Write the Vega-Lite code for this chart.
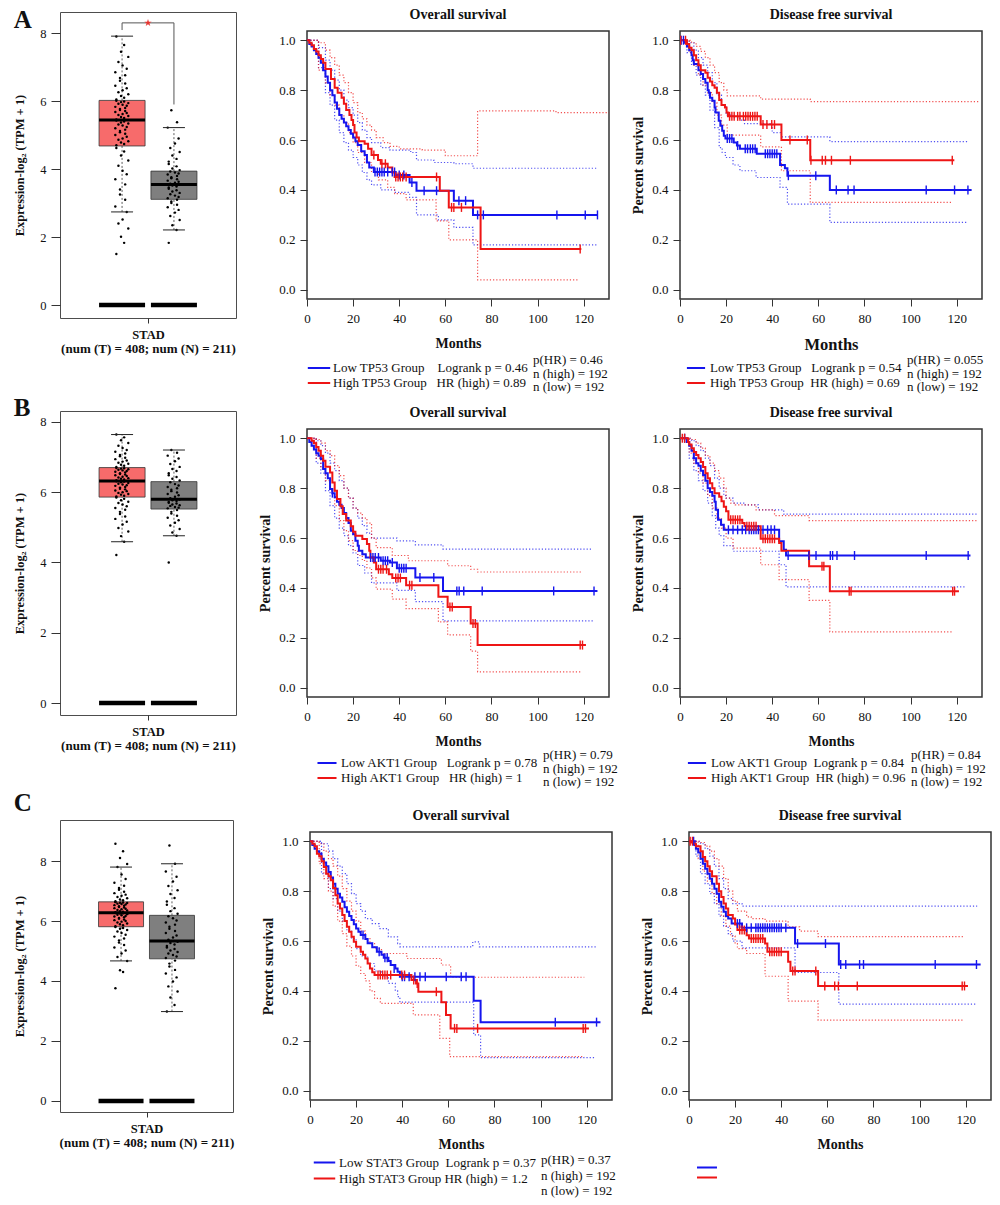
{
"$schema":"https://vega.github.io/schema/vega-lite/v6.json",
"background":"white",
"padding":{"left":13,"top":7,"right":5,"bottom":5},
"spacing":0,
"bounds":"full",
"resolve":{"scale":{"x":"independent","y":"independent","color":"independent"},"axis":{"x":"independent","y":"independent"},"legend":{"color":"independent"}},
"config":{
 "font":"Liberation Serif",
 "view":{"stroke":"#333","strokeWidth":1.5},
 "axis":{"domain":false,"grid":false,"labelFont":"Liberation Serif","titleFont":"Liberation Serif","labelColor":"#111","titleColor":"#111","labelFontSize":13,"titleFontSize":14,"titleFontWeight":"bold","tickColor":"#333","tickSize":7,"labelPadding":5,"titlePadding":8,"labelFlush":false,"labelOverlap":false},
 "title":{"font":"Liberation Serif","fontSize":14,"fontWeight":"bold","color":"#111","anchor":"middle","offset":9},
 "legend":{"direction":"vertical","symbolType":"M-1.6,0H1.6","symbolStrokeWidth":2,"symbolSize":196,"symbolDash":[1,0],"symbolOpacity":1,"labelFont":"Liberation Serif","labelFontSize":13,"labelColor":"#111","labelOffset":6,"rowPadding":0,"padding":0,"labelLimit":400,"titleFont":"Liberation Serif","titleFontSize":13,"titleFontWeight":"normal","titleColor":"#111","titleOrient":"right","titleAnchor":"start","titleBaseline":"middle","titleLineHeight":13.5,"titlePadding":5,"titleLimit":300}
},
"datasets":{
 "boxA":[{"g":"T","c":1,"lo":2.74,"q1":4.68,"med":5.44,"q3":6.02,"hi":7.91,"z":0},{"g":"N","c":2,"lo":2.21,"q1":3.11,"med":3.55,"q3":3.94,"hi":5.22,"z":0}],
 "boxB":[{"g":"T","c":1,"lo":4.59,"q1":5.86,"med":6.32,"q3":6.70,"hi":7.64,"z":0},{"g":"N","c":2,"lo":4.76,"q1":5.52,"med":5.80,"q3":6.30,"hi":7.20,"z":0}],
 "boxC":[{"g":"T","c":1,"lo":4.67,"q1":5.81,"med":6.28,"q3":6.64,"hi":7.80,"z":0},{"g":"N","c":2,"lo":2.98,"q1":4.74,"med":5.33,"q3":6.19,"hi":7.91,"z":0}],
 "brA":[{"x":1,"x2":2,"y":8.3,"y2":8.3},{"x":1,"x2":1,"y":8.09,"y2":8.3},{"x":2,"x2":2,"y":5.9,"y2":8.3}],
 "starA":[{"x":1.5,"y":8.3}],
 "ptsA":[
{"x":0.89,"v":1.5},{"x":1.04,"v":1.83},{"x":0.98,"v":2.01},{"x":1.12,"v":2.25},{"x":0.93,"v":2.4},{"x":1.01,"v":2.52},{"x":1.09,"v":2.74},{"x":0.87,"v":2.9},{"x":1.06,"v":3.1},{"x":0.96,"v":3.25},
{"x":0.96,"v":3.4},{"x":1.06,"v":3.55},{"x":0.87,"v":3.7},{"x":1.09,"v":3.85},{"x":1.01,"v":3.95},{"x":0.93,"v":4.1},{"x":1.12,"v":4.25},{"x":0.98,"v":4.4},{"x":1.04,"v":4.52},{"x":0.89,"v":4.62},
{"x":0.89,"v":4.7},{"x":1.04,"v":4.74},{"x":0.98,"v":4.78},{"x":1.12,"v":4.82},{"x":0.93,"v":4.86},{"x":1.01,"v":4.9},{"x":1.09,"v":4.95},{"x":0.87,"v":5.0},{"x":1.06,"v":5.04},{"x":0.96,"v":5.08},
{"x":0.96,"v":5.12},{"x":1.06,"v":5.16},{"x":0.87,"v":5.2},{"x":1.09,"v":5.24},{"x":1.01,"v":5.28},{"x":0.93,"v":5.31},{"x":1.12,"v":5.34},{"x":0.98,"v":5.37},{"x":1.04,"v":5.4},{"x":0.89,"v":5.43},
{"x":0.89,"v":5.46},{"x":1.04,"v":5.5},{"x":0.98,"v":5.53},{"x":1.12,"v":5.56},{"x":0.93,"v":5.59},{"x":1.01,"v":5.62},{"x":1.09,"v":5.65},{"x":0.87,"v":5.68},{"x":1.06,"v":5.71},{"x":0.96,"v":5.74},
{"x":0.96,"v":5.77},{"x":1.06,"v":5.8},{"x":0.87,"v":5.83},{"x":1.09,"v":5.86},{"x":1.01,"v":5.89},{"x":0.93,"v":5.92},{"x":1.12,"v":5.94},{"x":0.98,"v":5.97},{"x":1.04,"v":5.99},{"x":0.89,"v":6.01},
{"x":0.89,"v":6.05},{"x":1.04,"v":6.1},{"x":0.98,"v":6.15},{"x":1.12,"v":6.2},{"x":0.93,"v":6.26},{"x":1.01,"v":6.32},{"x":1.09,"v":6.38},{"x":0.87,"v":6.45},{"x":1.06,"v":6.52},{"x":0.96,"v":6.6},
{"x":0.96,"v":6.68},{"x":1.06,"v":6.76},{"x":0.87,"v":6.85},{"x":1.09,"v":6.95},{"x":1.01,"v":7.05},{"x":0.93,"v":7.15},{"x":1.12,"v":7.3},{"x":0.98,"v":7.45},{"x":1.04,"v":7.65},{"x":0.89,"v":7.9},
{"x":1.90,"v":1.83},{"x":2.05,"v":2.21},{"x":1.97,"v":2.35},{"x":2.11,"v":2.5},{"x":1.93,"v":2.62},{"x":2.02,"v":2.72},{"x":2.09,"v":2.8},{"x":1.88,"v":2.88},{"x":2.06,"v":2.95},{"x":1.95,"v":3.0},
{"x":1.95,"v":3.05},{"x":2.06,"v":3.1},{"x":1.88,"v":3.14},{"x":2.09,"v":3.18},{"x":2.02,"v":3.22},{"x":1.93,"v":3.26},{"x":2.11,"v":3.3},{"x":1.97,"v":3.34},{"x":2.05,"v":3.38},{"x":1.90,"v":3.42},
{"x":1.90,"v":3.46},{"x":2.05,"v":3.49},{"x":1.97,"v":3.52},{"x":2.11,"v":3.54},{"x":1.93,"v":3.57},{"x":2.02,"v":3.6},{"x":2.09,"v":3.63},{"x":1.88,"v":3.66},{"x":2.06,"v":3.7},{"x":1.95,"v":3.73},
{"x":1.95,"v":3.76},{"x":2.06,"v":3.8},{"x":1.88,"v":3.84},{"x":2.09,"v":3.87},{"x":2.02,"v":3.9},{"x":1.93,"v":3.93},{"x":2.11,"v":3.97},{"x":1.97,"v":4.02},{"x":2.05,"v":4.08},{"x":1.90,"v":4.15},
{"x":1.90,"v":4.22},{"x":2.05,"v":4.3},{"x":1.97,"v":4.4},{"x":2.11,"v":4.5},{"x":1.93,"v":4.62},{"x":2.02,"v":4.75},{"x":2.09,"v":4.9},{"x":1.88,"v":5.22},{"x":2.06,"v":5.38},{"x":1.95,"v":5.73}],
 "ptsB":[
{"x":0.89,"v":4.21},{"x":1.04,"v":4.59},{"x":0.98,"v":4.75},{"x":1.12,"v":4.88},{"x":0.93,"v":4.98},{"x":1.01,"v":5.08},{"x":1.09,"v":5.16},{"x":0.87,"v":5.24},{"x":1.06,"v":5.31},{"x":0.96,"v":5.38},
{"x":0.96,"v":5.44},{"x":1.06,"v":5.5},{"x":0.87,"v":5.55},{"x":1.09,"v":5.6},{"x":1.01,"v":5.65},{"x":0.93,"v":5.69},{"x":1.12,"v":5.73},{"x":0.98,"v":5.77},{"x":1.04,"v":5.81},{"x":0.89,"v":5.85},
{"x":0.89,"v":5.88},{"x":1.04,"v":5.9},{"x":0.98,"v":5.93},{"x":1.12,"v":5.95},{"x":0.93,"v":5.98},{"x":1.01,"v":6.0},{"x":1.09,"v":6.03},{"x":0.87,"v":6.05},{"x":1.06,"v":6.08},{"x":0.96,"v":6.1},
{"x":0.96,"v":6.13},{"x":1.06,"v":6.15},{"x":0.87,"v":6.18},{"x":1.09,"v":6.2},{"x":1.01,"v":6.22},{"x":0.93,"v":6.24},{"x":1.12,"v":6.26},{"x":0.98,"v":6.28},{"x":1.04,"v":6.3},{"x":0.89,"v":6.31},
{"x":0.89,"v":6.34},{"x":1.04,"v":6.36},{"x":0.98,"v":6.38},{"x":1.12,"v":6.4},{"x":0.93,"v":6.42},{"x":1.01,"v":6.44},{"x":1.09,"v":6.46},{"x":0.87,"v":6.48},{"x":1.06,"v":6.5},{"x":0.96,"v":6.52},
{"x":0.96,"v":6.54},{"x":1.06,"v":6.56},{"x":0.87,"v":6.58},{"x":1.09,"v":6.6},{"x":1.01,"v":6.62},{"x":0.93,"v":6.64},{"x":1.12,"v":6.65},{"x":0.98,"v":6.67},{"x":1.04,"v":6.68},{"x":0.89,"v":6.69},
{"x":0.89,"v":6.72},{"x":1.04,"v":6.75},{"x":0.98,"v":6.78},{"x":1.12,"v":6.81},{"x":0.93,"v":6.84},{"x":1.01,"v":6.87},{"x":1.09,"v":6.9},{"x":0.87,"v":6.94},{"x":1.06,"v":6.98},{"x":0.96,"v":7.02},
{"x":0.96,"v":7.06},{"x":1.06,"v":7.1},{"x":0.87,"v":7.15},{"x":1.09,"v":7.2},{"x":1.01,"v":7.26},{"x":0.93,"v":7.32},{"x":1.12,"v":7.4},{"x":0.98,"v":7.48},{"x":1.04,"v":7.56},{"x":0.89,"v":7.64},
{"x":1.90,"v":4.0},{"x":2.05,"v":4.76},{"x":1.97,"v":4.85},{"x":2.11,"v":4.95},{"x":1.93,"v":5.05},{"x":2.02,"v":5.13},{"x":2.09,"v":5.2},{"x":1.88,"v":5.27},{"x":2.06,"v":5.33},{"x":1.95,"v":5.39},
{"x":1.95,"v":5.44},{"x":2.06,"v":5.49},{"x":1.88,"v":5.54},{"x":2.09,"v":5.56},{"x":2.02,"v":5.58},{"x":1.93,"v":5.61},{"x":2.11,"v":5.63},{"x":1.97,"v":5.65},{"x":2.05,"v":5.68},{"x":1.90,"v":5.7},
{"x":1.90,"v":5.72},{"x":2.05,"v":5.75},{"x":1.97,"v":5.77},{"x":2.11,"v":5.79},{"x":1.93,"v":5.83},{"x":2.02,"v":5.87},{"x":2.09,"v":5.91},{"x":1.88,"v":5.95},{"x":2.06,"v":5.99},{"x":1.95,"v":6.03},
{"x":1.95,"v":6.07},{"x":2.06,"v":6.11},{"x":1.88,"v":6.15},{"x":2.09,"v":6.19},{"x":2.02,"v":6.23},{"x":1.93,"v":6.28},{"x":2.11,"v":6.33},{"x":1.97,"v":6.38},{"x":2.05,"v":6.43},{"x":1.90,"v":6.48},
{"x":1.90,"v":6.54},{"x":2.05,"v":6.6},{"x":1.97,"v":6.66},{"x":2.11,"v":6.72},{"x":1.93,"v":6.8},{"x":2.02,"v":6.88},{"x":2.09,"v":6.96},{"x":1.88,"v":7.04},{"x":2.06,"v":7.12},{"x":1.95,"v":7.2}],
 "ptsC":[
{"x":0.89,"v":3.76},{"x":1.04,"v":4.3},{"x":0.98,"v":4.36},{"x":1.12,"v":4.67},{"x":0.93,"v":4.8},{"x":1.01,"v":4.92},{"x":1.09,"v":5.02},{"x":0.87,"v":5.12},{"x":1.06,"v":5.2},{"x":0.96,"v":5.28},
{"x":0.96,"v":5.35},{"x":1.06,"v":5.42},{"x":0.87,"v":5.48},{"x":1.09,"v":5.54},{"x":1.01,"v":5.6},{"x":0.93,"v":5.65},{"x":1.12,"v":5.7},{"x":0.98,"v":5.74},{"x":1.04,"v":5.77},{"x":0.89,"v":5.8},
{"x":0.89,"v":5.83},{"x":1.04,"v":5.86},{"x":0.98,"v":5.89},{"x":1.12,"v":5.92},{"x":0.93,"v":5.95},{"x":1.01,"v":5.98},{"x":1.09,"v":6.0},{"x":0.87,"v":6.03},{"x":1.06,"v":6.05},{"x":0.96,"v":6.08},
{"x":0.96,"v":6.1},{"x":1.06,"v":6.13},{"x":0.87,"v":6.15},{"x":1.09,"v":6.17},{"x":1.01,"v":6.19},{"x":0.93,"v":6.21},{"x":1.12,"v":6.23},{"x":0.98,"v":6.25},{"x":1.04,"v":6.26},{"x":0.89,"v":6.27},
{"x":0.89,"v":6.29},{"x":1.04,"v":6.31},{"x":0.98,"v":6.33},{"x":1.12,"v":6.35},{"x":0.93,"v":6.37},{"x":1.01,"v":6.39},{"x":1.09,"v":6.41},{"x":0.87,"v":6.43},{"x":1.06,"v":6.45},{"x":0.96,"v":6.47},
{"x":0.96,"v":6.49},{"x":1.06,"v":6.51},{"x":0.87,"v":6.53},{"x":1.09,"v":6.55},{"x":1.01,"v":6.57},{"x":0.93,"v":6.58},{"x":1.12,"v":6.6},{"x":0.98,"v":6.61},{"x":1.04,"v":6.62},{"x":0.89,"v":6.63},
{"x":0.89,"v":6.66},{"x":1.04,"v":6.69},{"x":0.98,"v":6.72},{"x":1.12,"v":6.76},{"x":0.93,"v":6.8},{"x":1.01,"v":6.84},{"x":1.09,"v":6.88},{"x":0.87,"v":6.93},{"x":1.06,"v":6.98},{"x":0.96,"v":7.04},
{"x":0.96,"v":7.1},{"x":1.06,"v":7.18},{"x":0.87,"v":7.28},{"x":1.09,"v":7.4},{"x":1.01,"v":7.55},{"x":0.93,"v":7.8},{"x":1.12,"v":7.9},{"x":0.98,"v":8.1},{"x":1.04,"v":8.33},{"x":0.89,"v":8.58},
{"x":1.90,"v":2.98},{"x":2.05,"v":3.2},{"x":1.97,"v":3.45},{"x":2.11,"v":3.65},{"x":1.93,"v":3.82},{"x":2.02,"v":3.98},{"x":2.09,"v":4.12},{"x":1.88,"v":4.25},{"x":2.06,"v":4.37},{"x":1.95,"v":4.48},
{"x":1.95,"v":4.58},{"x":2.06,"v":4.68},{"x":1.88,"v":4.77},{"x":2.09,"v":4.82},{"x":2.02,"v":4.87},{"x":1.93,"v":4.92},{"x":2.11,"v":4.97},{"x":1.97,"v":5.02},{"x":2.05,"v":5.07},{"x":1.90,"v":5.12},
{"x":1.90,"v":5.17},{"x":2.05,"v":5.22},{"x":1.97,"v":5.27},{"x":2.11,"v":5.31},{"x":1.93,"v":5.38},{"x":2.02,"v":5.45},{"x":2.09,"v":5.52},{"x":1.88,"v":5.6},{"x":2.06,"v":5.67},{"x":1.95,"v":5.74},
{"x":1.95,"v":5.81},{"x":2.06,"v":5.88},{"x":1.88,"v":5.95},{"x":2.09,"v":6.02},{"x":2.02,"v":6.09},{"x":1.93,"v":6.16},{"x":2.11,"v":6.24},{"x":1.97,"v":6.33},{"x":2.05,"v":6.43},{"x":1.90,"v":6.54},
{"x":1.90,"v":6.65},{"x":2.05,"v":6.77},{"x":1.97,"v":6.9},{"x":2.11,"v":7.03},{"x":1.93,"v":7.17},{"x":2.02,"v":7.32},{"x":2.09,"v":7.48},{"x":1.88,"v":7.65},{"x":2.06,"v":7.91},{"x":1.95,"v":8.52}],
 "kmAOS":[
{"g":"L","k":"S","t":0,"s":1},{"g":"L","k":"S","t":1,"s":0.985},{"g":"L","k":"S","t":2,"s":0.975},{"g":"L","k":"S","t":3,"s":0.96},{"g":"L","k":"S","t":4,"s":0.945},{"g":"L","k":"S","t":5,"s":0.93},{"g":"L","k":"S","t":6,"s":0.91},{"g":"L","k":"S","t":7,"s":0.88},{"g":"L","k":"S","t":8,"s":0.855},{"g":"L","k":"S","t":9,"s":0.83},{"g":"L","k":"S","t":10,"s":0.80},{"g":"L","k":"S","t":11,"s":0.78},{"g":"L","k":"S","t":12,"s":0.75},{"g":"L","k":"S","t":13,"s":0.725},{"g":"L","k":"S","t":14,"s":0.70},{"g":"L","k":"S","t":15,"s":0.685},{"g":"L","k":"S","t":16,"s":0.67},{"g":"L","k":"S","t":17,"s":0.655},{"g":"L","k":"S","t":18,"s":0.64},{"g":"L","k":"S","t":19,"s":0.625},{"g":"L","k":"S","t":20,"s":0.61},{"g":"L","k":"S","t":21,"s":0.595},{"g":"L","k":"S","t":22,"s":0.58},{"g":"L","k":"S","t":23.5,"s":0.555},{"g":"L","k":"S","t":25,"s":0.54},{"g":"L","k":"S","t":26,"s":0.51},{"g":"L","k":"S","t":27,"s":0.49},{"g":"L","k":"S","t":29,"s":0.472},{"g":"L","k":"S","t":38.5,"s":0.46},{"g":"L","k":"S","t":44.5,"s":0.43},{"g":"L","k":"S","t":47.5,"s":0.397},{"g":"L","k":"S","t":63.7,"s":0.357},{"g":"L","k":"S","t":72,"s":0.30},{"g":"L","k":"S","t":126,"s":0.30},
{"g":"H","k":"S","t":0,"s":1},{"g":"H","k":"S","t":1,"s":0.99},{"g":"H","k":"S","t":2,"s":0.98},{"g":"H","k":"S","t":3,"s":0.965},{"g":"H","k":"S","t":4,"s":0.955},{"g":"H","k":"S","t":5,"s":0.94},{"g":"H","k":"S","t":6,"s":0.925},{"g":"H","k":"S","t":7,"s":0.91},{"g":"H","k":"S","t":8,"s":0.885},{"g":"H","k":"S","t":10.4,"s":0.845},{"g":"H","k":"S","t":12,"s":0.81},{"g":"H","k":"S","t":13.3,"s":0.79},{"g":"H","k":"S","t":15,"s":0.77},{"g":"H","k":"S","t":16,"s":0.745},{"g":"H","k":"S","t":17,"s":0.72},{"g":"H","k":"S","t":18.4,"s":0.70},{"g":"H","k":"S","t":19.3,"s":0.68},{"g":"H","k":"S","t":20,"s":0.66},{"g":"H","k":"S","t":20.6,"s":0.63},{"g":"H","k":"S","t":21.5,"s":0.61},{"g":"H","k":"S","t":22.5,"s":0.595},{"g":"H","k":"S","t":25,"s":0.585},{"g":"H","k":"S","t":26.5,"s":0.565},{"g":"H","k":"S","t":28,"s":0.54},{"g":"H","k":"S","t":30.8,"s":0.52},{"g":"H","k":"S","t":32,"s":0.505},{"g":"H","k":"S","t":35,"s":0.49},{"g":"H","k":"S","t":37,"s":0.47},{"g":"H","k":"S","t":38,"s":0.452},{"g":"H","k":"S","t":57.6,"s":0.397},{"g":"H","k":"S","t":61.5,"s":0.33},{"g":"H","k":"S","t":75.3,"s":0.163},{"g":"H","k":"S","t":119,"s":0.163},
{"g":"L","k":"U","t":0,"s":1},{"g":"L","k":"U","t":5,"s":0.97},{"g":"L","k":"U","t":8,"s":0.92},{"g":"L","k":"U","t":10,"s":0.88},{"g":"L","k":"U","t":12,"s":0.84},{"g":"L","k":"U","t":14,"s":0.80},{"g":"L","k":"U","t":16,"s":0.76},{"g":"L","k":"U","t":18,"s":0.73},{"g":"L","k":"U","t":20,"s":0.70},{"g":"L","k":"U","t":22,"s":0.67},{"g":"L","k":"U","t":24,"s":0.64},{"g":"L","k":"U","t":26,"s":0.61},{"g":"L","k":"U","t":28,"s":0.59},{"g":"L","k":"U","t":32,"s":0.57},{"g":"L","k":"U","t":36,"s":0.56},{"g":"L","k":"U","t":45,"s":0.55},{"g":"L","k":"U","t":47.5,"s":0.52},{"g":"L","k":"U","t":55,"s":0.51},{"g":"L","k":"U","t":63.7,"s":0.505},{"g":"L","k":"U","t":72,"s":0.487},{"g":"L","k":"U","t":126,"s":0.487},
{"g":"L","k":"L","t":0,"s":1},{"g":"L","k":"L","t":5,"s":0.89},{"g":"L","k":"L","t":8,"s":0.79},{"g":"L","k":"L","t":10,"s":0.74},{"g":"L","k":"L","t":12,"s":0.68},{"g":"L","k":"L","t":14,"s":0.63},{"g":"L","k":"L","t":16,"s":0.59},{"g":"L","k":"L","t":18,"s":0.56},{"g":"L","k":"L","t":20,"s":0.53},{"g":"L","k":"L","t":22,"s":0.50},{"g":"L","k":"L","t":24,"s":0.47},{"g":"L","k":"L","t":26,"s":0.44},{"g":"L","k":"L","t":28,"s":0.42},{"g":"L","k":"L","t":32,"s":0.40},{"g":"L","k":"L","t":38,"s":0.39},{"g":"L","k":"L","t":44.5,"s":0.37},{"g":"L","k":"L","t":47.5,"s":0.30},{"g":"L","k":"L","t":57,"s":0.28},{"g":"L","k":"L","t":63.7,"s":0.25},{"g":"L","k":"L","t":72,"s":0.18},{"g":"L","k":"L","t":126,"s":0.18},
{"g":"H","k":"U","t":0,"s":1},{"g":"H","k":"U","t":5,"s":0.99},{"g":"H","k":"U","t":8,"s":0.96},{"g":"H","k":"U","t":10,"s":0.93},{"g":"H","k":"U","t":12,"s":0.90},{"g":"H","k":"U","t":14,"s":0.86},{"g":"H","k":"U","t":16,"s":0.83},{"g":"H","k":"U","t":18,"s":0.79},{"g":"H","k":"U","t":20,"s":0.75},{"g":"H","k":"U","t":22,"s":0.71},{"g":"H","k":"U","t":24,"s":0.685},{"g":"H","k":"U","t":26,"s":0.66},{"g":"H","k":"U","t":28,"s":0.64},{"g":"H","k":"U","t":30,"s":0.61},{"g":"H","k":"U","t":33,"s":0.59},{"g":"H","k":"U","t":36,"s":0.575},{"g":"H","k":"U","t":40,"s":0.565},{"g":"H","k":"U","t":50,"s":0.56},{"g":"H","k":"U","t":60,"s":0.537},{"g":"H","k":"U","t":74,"s":0.717},{"g":"H","k":"U","t":108,"s":0.71},{"g":"H","k":"U","t":131,"s":0.71},
{"g":"H","k":"L","t":0,"s":1},{"g":"H","k":"L","t":5,"s":0.88},{"g":"H","k":"L","t":8,"s":0.83},{"g":"H","k":"L","t":10,"s":0.78},{"g":"H","k":"L","t":12,"s":0.74},{"g":"H","k":"L","t":14,"s":0.70},{"g":"H","k":"L","t":16,"s":0.67},{"g":"H","k":"L","t":18,"s":0.63},{"g":"H","k":"L","t":20,"s":0.59},{"g":"H","k":"L","t":22,"s":0.55},{"g":"H","k":"L","t":25,"s":0.51},{"g":"H","k":"L","t":28,"s":0.47},{"g":"H","k":"L","t":31,"s":0.44},{"g":"H","k":"L","t":35,"s":0.41},{"g":"H","k":"L","t":38,"s":0.385},{"g":"H","k":"L","t":43,"s":0.36},{"g":"H","k":"L","t":56,"s":0.276},{"g":"H","k":"L","t":61.5,"s":0.20},{"g":"H","k":"L","t":74,"s":0.04},{"g":"H","k":"L","t":118,"s":0.04}],
 "cAOS":[
{"g":"L","t":29.5,"s":0.472},{"g":"L","t":30.5,"s":0.472},{"g":"L","t":31.5,"s":0.472},{"g":"L","t":32.5,"s":0.472},{"g":"L","t":33.5,"s":0.472},{"g":"L","t":35,"s":0.472},{"g":"L","t":37,"s":0.472},{"g":"L","t":38,"s":0.472},{"g":"L","t":40,"s":0.46},{"g":"L","t":42,"s":0.46},{"g":"L","t":45.5,"s":0.43},{"g":"L","t":50.8,"s":0.397},{"g":"L","t":56.2,"s":0.397},{"g":"L","t":65.9,"s":0.357},{"g":"L","t":68.8,"s":0.357},{"g":"L","t":74,"s":0.30},{"g":"L","t":76.5,"s":0.30},{"g":"L","t":108.4,"s":0.30},{"g":"L","t":120.7,"s":0.30},{"g":"L","t":126,"s":0.30},
{"g":"H","t":29,"s":0.54},{"g":"H","t":32.5,"s":0.505},{"g":"H","t":34,"s":0.505},{"g":"H","t":38.5,"s":0.452},{"g":"H","t":39.5,"s":0.452},{"g":"H","t":40.5,"s":0.452},{"g":"H","t":41.5,"s":0.452},{"g":"H","t":43,"s":0.452},{"g":"H","t":56.2,"s":0.452},{"g":"H","t":62.7,"s":0.33},{"g":"H","t":63.7,"s":0.33},{"g":"H","t":67,"s":0.33},{"g":"H","t":118.5,"s":0.163}],
 "kmADFS":[
{"g":"L","k":"S","t":0,"s":1},{"g":"L","k":"S","t":2,"s":0.99},{"g":"L","k":"S","t":3,"s":0.975},{"g":"L","k":"S","t":4,"s":0.96},{"g":"L","k":"S","t":5,"s":0.94},{"g":"L","k":"S","t":5.5,"s":0.92},{"g":"L","k":"S","t":6,"s":0.905},{"g":"L","k":"S","t":8,"s":0.88},{"g":"L","k":"S","t":9,"s":0.865},{"g":"L","k":"S","t":10,"s":0.845},{"g":"L","k":"S","t":11,"s":0.83},{"g":"L","k":"S","t":12,"s":0.80},{"g":"L","k":"S","t":12.5,"s":0.79},{"g":"L","k":"S","t":13,"s":0.77},{"g":"L","k":"S","t":14,"s":0.757},{"g":"L","k":"S","t":15,"s":0.73},{"g":"L","k":"S","t":15.4,"s":0.71},{"g":"L","k":"S","t":16.8,"s":0.677},{"g":"L","k":"S","t":17.5,"s":0.657},{"g":"L","k":"S","t":18.3,"s":0.637},{"g":"L","k":"S","t":19,"s":0.617},{"g":"L","k":"S","t":19.7,"s":0.606},{"g":"L","k":"S","t":23.3,"s":0.59},{"g":"L","k":"S","t":24.7,"s":0.578},{"g":"L","k":"S","t":26,"s":0.565},{"g":"L","k":"S","t":33.3,"s":0.545},{"g":"L","k":"S","t":43.4,"s":0.50},{"g":"L","k":"S","t":45.5,"s":0.487},{"g":"L","k":"S","t":46.6,"s":0.457},{"g":"L","k":"S","t":65,"s":0.40},{"g":"L","k":"S","t":126.5,"s":0.40},
{"g":"H","k":"S","t":0,"s":1},{"g":"H","k":"S","t":3,"s":0.985},{"g":"H","k":"S","t":4,"s":0.97},{"g":"H","k":"S","t":5,"s":0.96},{"g":"H","k":"S","t":6,"s":0.94},{"g":"H","k":"S","t":7,"s":0.92},{"g":"H","k":"S","t":8,"s":0.90},{"g":"H","k":"S","t":9,"s":0.88},{"g":"H","k":"S","t":11,"s":0.87},{"g":"H","k":"S","t":12,"s":0.85},{"g":"H","k":"S","t":13,"s":0.835},{"g":"H","k":"S","t":14,"s":0.82},{"g":"H","k":"S","t":15,"s":0.81},{"g":"H","k":"S","t":16,"s":0.79},{"g":"H","k":"S","t":17,"s":0.76},{"g":"H","k":"S","t":18,"s":0.74},{"g":"H","k":"S","t":19.5,"s":0.73},{"g":"H","k":"S","t":20.2,"s":0.71},{"g":"H","k":"S","t":20.8,"s":0.695},{"g":"H","k":"S","t":35,"s":0.662},{"g":"H","k":"S","t":44,"s":0.60},{"g":"H","k":"S","t":56.5,"s":0.519},{"g":"H","k":"S","t":119,"s":0.519},
{"g":"L","k":"U","t":0,"s":1},{"g":"L","k":"U","t":4,"s":0.99},{"g":"L","k":"U","t":6,"s":0.96},{"g":"L","k":"U","t":8,"s":0.93},{"g":"L","k":"U","t":10,"s":0.90},{"g":"L","k":"U","t":12,"s":0.87},{"g":"L","k":"U","t":14,"s":0.83},{"g":"L","k":"U","t":16,"s":0.78},{"g":"L","k":"U","t":18,"s":0.74},{"g":"L","k":"U","t":20,"s":0.70},{"g":"L","k":"U","t":23,"s":0.69},{"g":"L","k":"U","t":26,"s":0.68},{"g":"L","k":"U","t":28,"s":0.666},{"g":"L","k":"U","t":40,"s":0.63},{"g":"L","k":"U","t":44,"s":0.613},{"g":"L","k":"U","t":65,"s":0.594},{"g":"L","k":"U","t":125,"s":0.594},
{"g":"L","k":"L","t":0,"s":1},{"g":"L","k":"L","t":3,"s":0.95},{"g":"L","k":"L","t":5,"s":0.90},{"g":"L","k":"L","t":7,"s":0.86},{"g":"L","k":"L","t":9,"s":0.82},{"g":"L","k":"L","t":11,"s":0.78},{"g":"L","k":"L","t":13,"s":0.72},{"g":"L","k":"L","t":15,"s":0.65},{"g":"L","k":"L","t":17,"s":0.57},{"g":"L","k":"L","t":18.3,"s":0.55},{"g":"L","k":"L","t":19.7,"s":0.53},{"g":"L","k":"L","t":23,"s":0.50},{"g":"L","k":"L","t":26,"s":0.477},{"g":"L","k":"L","t":33,"s":0.45},{"g":"L","k":"L","t":43.4,"s":0.41},{"g":"L","k":"L","t":46.6,"s":0.343},{"g":"L","k":"L","t":65,"s":0.27},{"g":"L","k":"L","t":125,"s":0.27},
{"g":"H","k":"U","t":0,"s":1},{"g":"H","k":"U","t":5,"s":0.99},{"g":"H","k":"U","t":7,"s":0.975},{"g":"H","k":"U","t":9,"s":0.955},{"g":"H","k":"U","t":11,"s":0.93},{"g":"H","k":"U","t":13,"s":0.90},{"g":"H","k":"U","t":15,"s":0.87},{"g":"H","k":"U","t":17,"s":0.83},{"g":"H","k":"U","t":19,"s":0.80},{"g":"H","k":"U","t":20.5,"s":0.777},{"g":"H","k":"U","t":35,"s":0.764},{"g":"H","k":"U","t":56.5,"s":0.754},{"g":"H","k":"U","t":130,"s":0.754},
{"g":"H","k":"L","t":0,"s":1},{"g":"H","k":"L","t":4,"s":0.95},{"g":"H","k":"L","t":6,"s":0.90},{"g":"H","k":"L","t":8,"s":0.86},{"g":"H","k":"L","t":10,"s":0.82},{"g":"H","k":"L","t":12,"s":0.79},{"g":"H","k":"L","t":14,"s":0.75},{"g":"H","k":"L","t":16,"s":0.70},{"g":"H","k":"L","t":18,"s":0.66},{"g":"H","k":"L","t":20.5,"s":0.62},{"g":"H","k":"L","t":35,"s":0.573},{"g":"H","k":"L","t":44,"s":0.477},{"g":"H","k":"L","t":56.5,"s":0.35},{"g":"H","k":"L","t":118,"s":0.35}],
 "cADFS":[
{"g":"L","t":0.5,"s":1},{"g":"L","t":1.5,"s":1},{"g":"L","t":20.5,"s":0.606},{"g":"L","t":21.5,"s":0.606},{"g":"L","t":22.5,"s":0.606},{"g":"L","t":25,"s":0.578},{"g":"L","t":28.3,"s":0.565},{"g":"L","t":29.3,"s":0.565},{"g":"L","t":30.5,"s":0.565},{"g":"L","t":31.5,"s":0.565},{"g":"L","t":32.6,"s":0.565},{"g":"L","t":37,"s":0.545},{"g":"L","t":38,"s":0.545},{"g":"L","t":39,"s":0.545},{"g":"L","t":40,"s":0.545},{"g":"L","t":41,"s":0.545},{"g":"L","t":42,"s":0.545},{"g":"L","t":47,"s":0.457},{"g":"L","t":58.9,"s":0.457},{"g":"L","t":67.8,"s":0.40},{"g":"L","t":72.9,"s":0.40},{"g":"L","t":75.5,"s":0.40},{"g":"L","t":106.8,"s":0.40},{"g":"L","t":119.1,"s":0.40},{"g":"L","t":124.9,"s":0.40},
{"g":"H","t":0.3,"s":1},{"g":"H","t":2.4,"s":1},{"g":"H","t":21.5,"s":0.695},{"g":"H","t":22.5,"s":0.695},{"g":"H","t":23.5,"s":0.695},{"g":"H","t":25,"s":0.695},{"g":"H","t":26,"s":0.695},{"g":"H","t":27.5,"s":0.695},{"g":"H","t":28.5,"s":0.695},{"g":"H","t":29.5,"s":0.695},{"g":"H","t":30.5,"s":0.695},{"g":"H","t":31.5,"s":0.695},{"g":"H","t":32.5,"s":0.695},{"g":"H","t":33.5,"s":0.695},{"g":"H","t":36,"s":0.662},{"g":"H","t":37.7,"s":0.662},{"g":"H","t":39.8,"s":0.662},{"g":"H","t":41,"s":0.662},{"g":"H","t":47.7,"s":0.60},{"g":"H","t":55.2,"s":0.60},{"g":"H","t":56.8,"s":0.519},{"g":"H","t":61.7,"s":0.519},{"g":"H","t":63.1,"s":0.519},{"g":"H","t":65.7,"s":0.519},{"g":"H","t":73.9,"s":0.519},{"g":"H","t":118.1,"s":0.519}],
 "kmBOS":[
{"g":"L","k":"S","t":0,"s":1},{"g":"L","k":"S","t":1,"s":0.985},{"g":"L","k":"S","t":2,"s":0.97},{"g":"L","k":"S","t":3,"s":0.955},{"g":"L","k":"S","t":4,"s":0.94},{"g":"L","k":"S","t":5,"s":0.93},{"g":"L","k":"S","t":6,"s":0.917},{"g":"L","k":"S","t":7,"s":0.877},{"g":"L","k":"S","t":8,"s":0.86},{"g":"L","k":"S","t":9,"s":0.84},{"g":"L","k":"S","t":10,"s":0.797},{"g":"L","k":"S","t":11,"s":0.78},{"g":"L","k":"S","t":12,"s":0.763},{"g":"L","k":"S","t":13,"s":0.745},{"g":"L","k":"S","t":14,"s":0.733},{"g":"L","k":"S","t":15,"s":0.72},{"g":"L","k":"S","t":16,"s":0.70},{"g":"L","k":"S","t":17,"s":0.68},{"g":"L","k":"S","t":18,"s":0.66},{"g":"L","k":"S","t":19,"s":0.629},{"g":"L","k":"S","t":20,"s":0.615},{"g":"L","k":"S","t":21,"s":0.589},{"g":"L","k":"S","t":22,"s":0.569},{"g":"L","k":"S","t":22.5,"s":0.549},{"g":"L","k":"S","t":24,"s":0.535},{"g":"L","k":"S","t":25.5,"s":0.522},{"g":"L","k":"S","t":32,"s":0.509},{"g":"L","k":"S","t":36,"s":0.502},{"g":"L","k":"S","t":39,"s":0.479},{"g":"L","k":"S","t":47,"s":0.442},{"g":"L","k":"S","t":59,"s":0.388},{"g":"L","k":"S","t":126,"s":0.388},
{"g":"H","k":"S","t":0,"s":1},{"g":"H","k":"S","t":2,"s":0.99},{"g":"H","k":"S","t":3,"s":0.98},{"g":"H","k":"S","t":4,"s":0.965},{"g":"H","k":"S","t":5,"s":0.95},{"g":"H","k":"S","t":6,"s":0.93},{"g":"H","k":"S","t":7,"s":0.91},{"g":"H","k":"S","t":8,"s":0.886},{"g":"H","k":"S","t":10,"s":0.863},{"g":"H","k":"S","t":11,"s":0.823},{"g":"H","k":"S","t":12,"s":0.79},{"g":"H","k":"S","t":13,"s":0.756},{"g":"H","k":"S","t":14.5,"s":0.727},{"g":"H","k":"S","t":15.5,"s":0.696},{"g":"H","k":"S","t":17,"s":0.67},{"g":"H","k":"S","t":19,"s":0.647},{"g":"H","k":"S","t":20,"s":0.625},{"g":"H","k":"S","t":21,"s":0.609},{"g":"H","k":"S","t":24,"s":0.596},{"g":"H","k":"S","t":26,"s":0.576},{"g":"H","k":"S","t":27,"s":0.549},{"g":"H","k":"S","t":27.5,"s":0.522},{"g":"H","k":"S","t":29,"s":0.502},{"g":"H","k":"S","t":30,"s":0.475},{"g":"H","k":"S","t":35.5,"s":0.455},{"g":"H","k":"S","t":37,"s":0.44},{"g":"H","k":"S","t":43,"s":0.411},{"g":"H","k":"S","t":57,"s":0.365},{"g":"H","k":"S","t":61,"s":0.324},{"g":"H","k":"S","t":71,"s":0.258},{"g":"H","k":"S","t":74,"s":0.171},{"g":"H","k":"S","t":121,"s":0.171},
{"g":"L","k":"U","t":0,"s":1},{"g":"L","k":"U","t":4,"s":0.99},{"g":"L","k":"U","t":6,"s":0.97},{"g":"L","k":"U","t":8,"s":0.94},{"g":"L","k":"U","t":10,"s":0.90},{"g":"L","k":"U","t":12,"s":0.87},{"g":"L","k":"U","t":14,"s":0.83},{"g":"L","k":"U","t":16,"s":0.80},{"g":"L","k":"U","t":18,"s":0.76},{"g":"L","k":"U","t":20,"s":0.72},{"g":"L","k":"U","t":22,"s":0.68},{"g":"L","k":"U","t":24,"s":0.65},{"g":"L","k":"U","t":26,"s":0.62},{"g":"L","k":"U","t":28,"s":0.60},{"g":"L","k":"U","t":39,"s":0.589},{"g":"L","k":"U","t":47,"s":0.573},{"g":"L","k":"U","t":59,"s":0.556},{"g":"L","k":"U","t":124,"s":0.556},
{"g":"L","k":"L","t":0,"s":1},{"g":"L","k":"L","t":4,"s":0.90},{"g":"L","k":"L","t":6,"s":0.86},{"g":"L","k":"L","t":8,"s":0.79},{"g":"L","k":"L","t":10,"s":0.73},{"g":"L","k":"L","t":12,"s":0.68},{"g":"L","k":"L","t":14,"s":0.64},{"g":"L","k":"L","t":16,"s":0.61},{"g":"L","k":"L","t":18,"s":0.57},{"g":"L","k":"L","t":20,"s":0.54},{"g":"L","k":"L","t":22,"s":0.49},{"g":"L","k":"L","t":25,"s":0.46},{"g":"L","k":"L","t":28,"s":0.42},{"g":"L","k":"L","t":39,"s":0.39},{"g":"L","k":"L","t":47,"s":0.345},{"g":"L","k":"L","t":59,"s":0.268},{"g":"L","k":"L","t":124,"s":0.268},
{"g":"H","k":"U","t":0,"s":1},{"g":"H","k":"U","t":4,"s":0.995},{"g":"H","k":"U","t":6,"s":0.98},{"g":"H","k":"U","t":8,"s":0.95},{"g":"H","k":"U","t":10,"s":0.93},{"g":"H","k":"U","t":12,"s":0.89},{"g":"H","k":"U","t":14,"s":0.85},{"g":"H","k":"U","t":16,"s":0.80},{"g":"H","k":"U","t":18,"s":0.76},{"g":"H","k":"U","t":20,"s":0.72},{"g":"H","k":"U","t":22,"s":0.70},{"g":"H","k":"U","t":24,"s":0.68},{"g":"H","k":"U","t":26,"s":0.66},{"g":"H","k":"U","t":28,"s":0.60},{"g":"H","k":"U","t":30,"s":0.562},{"g":"H","k":"U","t":37,"s":0.53},{"g":"H","k":"U","t":44,"s":0.509},{"g":"H","k":"U","t":61,"s":0.489},{"g":"H","k":"U","t":71,"s":0.475},{"g":"H","k":"U","t":74,"s":0.464},{"g":"H","k":"U","t":119,"s":0.464},
{"g":"H","k":"L","t":0,"s":1},{"g":"H","k":"L","t":4,"s":0.92},{"g":"H","k":"L","t":6,"s":0.88},{"g":"H","k":"L","t":8,"s":0.83},{"g":"H","k":"L","t":10,"s":0.79},{"g":"H","k":"L","t":12,"s":0.73},{"g":"H","k":"L","t":14,"s":0.67},{"g":"H","k":"L","t":16,"s":0.63},{"g":"H","k":"L","t":18,"s":0.59},{"g":"H","k":"L","t":20,"s":0.55},{"g":"H","k":"L","t":22,"s":0.53},{"g":"H","k":"L","t":24,"s":0.51},{"g":"H","k":"L","t":26,"s":0.48},{"g":"H","k":"L","t":28,"s":0.44},{"g":"H","k":"L","t":30,"s":0.395},{"g":"H","k":"L","t":37,"s":0.355},{"g":"H","k":"L","t":43,"s":0.317},{"g":"H","k":"L","t":57,"s":0.264},{"g":"H","k":"L","t":61,"s":0.212},{"g":"H","k":"L","t":71,"s":0.147},{"g":"H","k":"L","t":74,"s":0.064},{"g":"H","k":"L","t":119,"s":0.064}],
 "cBOS":[
{"g":"L","t":11,"s":0.78},{"g":"L","t":27.6,"s":0.522},{"g":"L","t":28.6,"s":0.522},{"g":"L","t":29.6,"s":0.522},{"g":"L","t":31,"s":0.522},{"g":"L","t":33,"s":0.509},{"g":"L","t":34,"s":0.509},{"g":"L","t":35,"s":0.509},{"g":"L","t":37,"s":0.502},{"g":"L","t":40,"s":0.479},{"g":"L","t":41,"s":0.479},{"g":"L","t":42,"s":0.479},{"g":"L","t":43,"s":0.479},{"g":"L","t":49,"s":0.442},{"g":"L","t":55,"s":0.442},{"g":"L","t":65,"s":0.388},{"g":"L","t":66,"s":0.388},{"g":"L","t":68,"s":0.388},{"g":"L","t":76,"s":0.388},{"g":"L","t":107,"s":0.388},{"g":"L","t":124.5,"s":0.388},
{"g":"H","t":31,"s":0.475},{"g":"H","t":32,"s":0.475},{"g":"H","t":33,"s":0.475},{"g":"H","t":34.5,"s":0.475},{"g":"H","t":38.5,"s":0.44},{"g":"H","t":39.5,"s":0.44},{"g":"H","t":40.5,"s":0.44},{"g":"H","t":44.5,"s":0.411},{"g":"H","t":45.5,"s":0.411},{"g":"H","t":62,"s":0.324},{"g":"H","t":63,"s":0.324},{"g":"H","t":72,"s":0.258},{"g":"H","t":73,"s":0.258},{"g":"H","t":118.5,"s":0.171},{"g":"H","t":119.5,"s":0.171}],
 "kmBDFS":[
{"g":"L","k":"S","t":0,"s":1},{"g":"L","k":"S","t":3,"s":0.985},{"g":"L","k":"S","t":4,"s":0.97},{"g":"L","k":"S","t":5,"s":0.95},{"g":"L","k":"S","t":6,"s":0.92},{"g":"L","k":"S","t":7,"s":0.90},{"g":"L","k":"S","t":8,"s":0.89},{"g":"L","k":"S","t":9,"s":0.87},{"g":"L","k":"S","t":10,"s":0.853},{"g":"L","k":"S","t":11,"s":0.83},{"g":"L","k":"S","t":12,"s":0.80},{"g":"L","k":"S","t":13,"s":0.785},{"g":"L","k":"S","t":14,"s":0.77},{"g":"L","k":"S","t":15,"s":0.745},{"g":"L","k":"S","t":15.5,"s":0.713},{"g":"L","k":"S","t":16.5,"s":0.673},{"g":"L","k":"S","t":17.8,"s":0.653},{"g":"L","k":"S","t":19,"s":0.633},{"g":"L","k":"S","t":43,"s":0.587},{"g":"L","k":"S","t":45,"s":0.553},{"g":"L","k":"S","t":46,"s":0.53},{"g":"L","k":"S","t":126,"s":0.53},
{"g":"H","k":"S","t":0,"s":1},{"g":"H","k":"S","t":3.5,"s":0.985},{"g":"H","k":"S","t":4,"s":0.975},{"g":"H","k":"S","t":5,"s":0.96},{"g":"H","k":"S","t":6,"s":0.945},{"g":"H","k":"S","t":7,"s":0.933},{"g":"H","k":"S","t":8,"s":0.92},{"g":"H","k":"S","t":9,"s":0.905},{"g":"H","k":"S","t":10,"s":0.885},{"g":"H","k":"S","t":11,"s":0.86},{"g":"H","k":"S","t":12,"s":0.84},{"g":"H","k":"S","t":13,"s":0.82},{"g":"H","k":"S","t":14,"s":0.80},{"g":"H","k":"S","t":15,"s":0.78},{"g":"H","k":"S","t":17,"s":0.765},{"g":"H","k":"S","t":18,"s":0.747},{"g":"H","k":"S","t":19,"s":0.725},{"g":"H","k":"S","t":20,"s":0.707},{"g":"H","k":"S","t":21,"s":0.673},{"g":"H","k":"S","t":27,"s":0.66},{"g":"H","k":"S","t":28,"s":0.647},{"g":"H","k":"S","t":35,"s":0.597},{"g":"H","k":"S","t":43,"s":0.58},{"g":"H","k":"S","t":44,"s":0.549},{"g":"H","k":"S","t":56,"s":0.487},{"g":"H","k":"S","t":65,"s":0.387},{"g":"H","k":"S","t":121,"s":0.387},
{"g":"L","k":"U","t":0,"s":1},{"g":"L","k":"U","t":5,"s":0.99},{"g":"L","k":"U","t":7,"s":0.97},{"g":"L","k":"U","t":9,"s":0.95},{"g":"L","k":"U","t":11,"s":0.92},{"g":"L","k":"U","t":13,"s":0.89},{"g":"L","k":"U","t":15,"s":0.84},{"g":"L","k":"U","t":17,"s":0.80},{"g":"L","k":"U","t":19,"s":0.77},{"g":"L","k":"U","t":20,"s":0.76},{"g":"L","k":"U","t":23,"s":0.74},{"g":"L","k":"U","t":28,"s":0.733},{"g":"L","k":"U","t":34,"s":0.713},{"g":"L","k":"U","t":45,"s":0.696},{"g":"L","k":"U","t":129,"s":0.696},
{"g":"L","k":"L","t":0,"s":1},{"g":"L","k":"L","t":4,"s":0.92},{"g":"L","k":"L","t":6,"s":0.87},{"g":"L","k":"L","t":8,"s":0.83},{"g":"L","k":"L","t":10,"s":0.79},{"g":"L","k":"L","t":12,"s":0.74},{"g":"L","k":"L","t":14,"s":0.69},{"g":"L","k":"L","t":15.5,"s":0.64},{"g":"L","k":"L","t":17,"s":0.61},{"g":"L","k":"L","t":19,"s":0.57},{"g":"L","k":"L","t":23,"s":0.547},{"g":"L","k":"L","t":43,"s":0.493},{"g":"L","k":"L","t":46,"s":0.404},{"g":"L","k":"L","t":124,"s":0.404},
{"g":"H","k":"U","t":0,"s":1},{"g":"H","k":"U","t":5,"s":0.995},{"g":"H","k":"U","t":7,"s":0.98},{"g":"H","k":"U","t":9,"s":0.96},{"g":"H","k":"U","t":11,"s":0.93},{"g":"H","k":"U","t":13,"s":0.90},{"g":"H","k":"U","t":15,"s":0.87},{"g":"H","k":"U","t":17,"s":0.84},{"g":"H","k":"U","t":19,"s":0.80},{"g":"H","k":"U","t":20,"s":0.76},{"g":"H","k":"U","t":22,"s":0.74},{"g":"H","k":"U","t":24,"s":0.733},{"g":"H","k":"U","t":33,"s":0.713},{"g":"H","k":"U","t":41,"s":0.69},{"g":"H","k":"U","t":56,"s":0.67},{"g":"H","k":"U","t":129,"s":0.67},
{"g":"H","k":"L","t":0,"s":1},{"g":"H","k":"L","t":4,"s":0.94},{"g":"H","k":"L","t":6,"s":0.90},{"g":"H","k":"L","t":8,"s":0.86},{"g":"H","k":"L","t":10,"s":0.82},{"g":"H","k":"L","t":12,"s":0.77},{"g":"H","k":"L","t":14,"s":0.72},{"g":"H","k":"L","t":16,"s":0.68},{"g":"H","k":"L","t":18,"s":0.64},{"g":"H","k":"L","t":20,"s":0.60},{"g":"H","k":"L","t":23,"s":0.56},{"g":"H","k":"L","t":35,"s":0.493},{"g":"H","k":"L","t":43,"s":0.433},{"g":"H","k":"L","t":56,"s":0.35},{"g":"H","k":"L","t":65,"s":0.224},{"g":"H","k":"L","t":118,"s":0.224}],
 "cBDFS":[
{"g":"L","t":2,"s":1},{"g":"L","t":21,"s":0.633},{"g":"L","t":23,"s":0.633},{"g":"L","t":25,"s":0.633},{"g":"L","t":27,"s":0.633},{"g":"L","t":28.5,"s":0.633},{"g":"L","t":30,"s":0.633},{"g":"L","t":31,"s":0.633},{"g":"L","t":32,"s":0.633},{"g":"L","t":33,"s":0.633},{"g":"L","t":34,"s":0.633},{"g":"L","t":36,"s":0.633},{"g":"L","t":38,"s":0.633},{"g":"L","t":39.5,"s":0.633},{"g":"L","t":41,"s":0.633},{"g":"L","t":46.9,"s":0.53},{"g":"L","t":55.9,"s":0.53},{"g":"L","t":59,"s":0.53},{"g":"L","t":65.2,"s":0.53},{"g":"L","t":66.2,"s":0.53},{"g":"L","t":68.1,"s":0.53},{"g":"L","t":75.7,"s":0.53},{"g":"L","t":106.8,"s":0.53},{"g":"L","t":125,"s":0.53},
{"g":"H","t":1,"s":1},{"g":"H","t":2,"s":1},{"g":"H","t":22,"s":0.673},{"g":"H","t":23,"s":0.673},{"g":"H","t":24,"s":0.673},{"g":"H","t":25,"s":0.673},{"g":"H","t":26,"s":0.673},{"g":"H","t":29,"s":0.647},{"g":"H","t":30,"s":0.647},{"g":"H","t":31,"s":0.647},{"g":"H","t":32,"s":0.647},{"g":"H","t":33,"s":0.647},{"g":"H","t":36,"s":0.597},{"g":"H","t":37,"s":0.597},{"g":"H","t":38,"s":0.597},{"g":"H","t":39,"s":0.597},{"g":"H","t":40,"s":0.597},{"g":"H","t":41,"s":0.597},{"g":"H","t":61.6,"s":0.487},{"g":"H","t":62.4,"s":0.487},{"g":"H","t":73.4,"s":0.387},{"g":"H","t":74.2,"s":0.387},{"g":"H","t":118.3,"s":0.387},{"g":"H","t":119.1,"s":0.387}],
 "kmCOS":[
{"g":"L","k":"S","t":0,"s":1},{"g":"L","k":"S","t":1,"s":0.985},{"g":"L","k":"S","t":2,"s":0.97},{"g":"L","k":"S","t":3,"s":0.96},{"g":"L","k":"S","t":4,"s":0.95},{"g":"L","k":"S","t":5,"s":0.93},{"g":"L","k":"S","t":6,"s":0.915},{"g":"L","k":"S","t":7,"s":0.90},{"g":"L","k":"S","t":8,"s":0.877},{"g":"L","k":"S","t":9,"s":0.855},{"g":"L","k":"S","t":10,"s":0.83},{"g":"L","k":"S","t":11,"s":0.81},{"g":"L","k":"S","t":12,"s":0.79},{"g":"L","k":"S","t":13,"s":0.775},{"g":"L","k":"S","t":14,"s":0.757},{"g":"L","k":"S","t":15,"s":0.735},{"g":"L","k":"S","t":16,"s":0.717},{"g":"L","k":"S","t":17,"s":0.70},{"g":"L","k":"S","t":18,"s":0.684},{"g":"L","k":"S","t":19,"s":0.667},{"g":"L","k":"S","t":20,"s":0.65},{"g":"L","k":"S","t":21,"s":0.637},{"g":"L","k":"S","t":22,"s":0.624},{"g":"L","k":"S","t":24,"s":0.608},{"g":"L","k":"S","t":25,"s":0.591},{"g":"L","k":"S","t":27,"s":0.575},{"g":"L","k":"S","t":29,"s":0.557},{"g":"L","k":"S","t":31,"s":0.545},{"g":"L","k":"S","t":32,"s":0.533},{"g":"L","k":"S","t":34,"s":0.52},{"g":"L","k":"S","t":35,"s":0.504},{"g":"L","k":"S","t":37,"s":0.49},{"g":"L","k":"S","t":38,"s":0.477},{"g":"L","k":"S","t":39,"s":0.457},{"g":"L","k":"S","t":71,"s":0.361},{"g":"L","k":"S","t":74,"s":0.275},{"g":"L","k":"S","t":126,"s":0.275},
{"g":"H","k":"S","t":0,"s":1},{"g":"H","k":"S","t":1,"s":0.99},{"g":"H","k":"S","t":2,"s":0.98},{"g":"H","k":"S","t":3,"s":0.95},{"g":"H","k":"S","t":4,"s":0.94},{"g":"H","k":"S","t":5,"s":0.92},{"g":"H","k":"S","t":6,"s":0.897},{"g":"H","k":"S","t":7,"s":0.87},{"g":"H","k":"S","t":8,"s":0.86},{"g":"H","k":"S","t":9,"s":0.844},{"g":"H","k":"S","t":10,"s":0.813},{"g":"H","k":"S","t":11,"s":0.784},{"g":"H","k":"S","t":12,"s":0.75},{"g":"H","k":"S","t":13,"s":0.73},{"g":"H","k":"S","t":14,"s":0.704},{"g":"H","k":"S","t":15,"s":0.68},{"g":"H","k":"S","t":16,"s":0.657},{"g":"H","k":"S","t":17,"s":0.637},{"g":"H","k":"S","t":18,"s":0.617},{"g":"H","k":"S","t":19,"s":0.597},{"g":"H","k":"S","t":20,"s":0.577},{"g":"H","k":"S","t":22,"s":0.557},{"g":"H","k":"S","t":23,"s":0.545},{"g":"H","k":"S","t":24,"s":0.53},{"g":"H","k":"S","t":25,"s":0.51},{"g":"H","k":"S","t":26,"s":0.49},{"g":"H","k":"S","t":27,"s":0.475},{"g":"H","k":"S","t":28,"s":0.464},{"g":"H","k":"S","t":44,"s":0.444},{"g":"H","k":"S","t":46,"s":0.43},{"g":"H","k":"S","t":47,"s":0.397},{"g":"H","k":"S","t":57,"s":0.355},{"g":"H","k":"S","t":59,"s":0.304},{"g":"H","k":"S","t":61,"s":0.25},{"g":"H","k":"S","t":121,"s":0.25},
{"g":"L","k":"U","t":0,"s":1},{"g":"L","k":"U","t":5,"s":0.99},{"g":"L","k":"U","t":8,"s":0.96},{"g":"L","k":"U","t":10,"s":0.93},{"g":"L","k":"U","t":12,"s":0.90},{"g":"L","k":"U","t":14,"s":0.87},{"g":"L","k":"U","t":16,"s":0.83},{"g":"L","k":"U","t":18,"s":0.79},{"g":"L","k":"U","t":20,"s":0.75},{"g":"L","k":"U","t":22,"s":0.72},{"g":"L","k":"U","t":24,"s":0.69},{"g":"L","k":"U","t":27,"s":0.67},{"g":"L","k":"U","t":30,"s":0.65},{"g":"L","k":"U","t":34,"s":0.617},{"g":"L","k":"U","t":38,"s":0.59},{"g":"L","k":"U","t":39,"s":0.577},{"g":"L","k":"U","t":70.6,"s":0.597},{"g":"L","k":"U","t":73.5,"s":0.577},{"g":"L","k":"U","t":124,"s":0.577},
{"g":"L","k":"L","t":0,"s":1},{"g":"L","k":"L","t":5,"s":0.87},{"g":"L","k":"L","t":8,"s":0.81},{"g":"L","k":"L","t":10,"s":0.77},{"g":"L","k":"L","t":12,"s":0.72},{"g":"L","k":"L","t":14,"s":0.68},{"g":"L","k":"L","t":16,"s":0.64},{"g":"L","k":"L","t":18,"s":0.61},{"g":"L","k":"L","t":20,"s":0.57},{"g":"L","k":"L","t":22,"s":0.54},{"g":"L","k":"L","t":25,"s":0.51},{"g":"L","k":"L","t":28,"s":0.48},{"g":"L","k":"L","t":31,"s":0.46},{"g":"L","k":"L","t":34,"s":0.43},{"g":"L","k":"L","t":37,"s":0.40},{"g":"L","k":"L","t":38,"s":0.377},{"g":"L","k":"L","t":39,"s":0.355},{"g":"L","k":"L","t":71,"s":0.224},{"g":"L","k":"L","t":74,"s":0.133},{"g":"L","k":"L","t":124,"s":0.133},
{"g":"H","k":"U","t":0,"s":1},{"g":"H","k":"U","t":4,"s":0.99},{"g":"H","k":"U","t":6,"s":0.96},{"g":"H","k":"U","t":8,"s":0.93},{"g":"H","k":"U","t":10,"s":0.90},{"g":"H","k":"U","t":12,"s":0.86},{"g":"H","k":"U","t":14,"s":0.81},{"g":"H","k":"U","t":16,"s":0.76},{"g":"H","k":"U","t":18,"s":0.72},{"g":"H","k":"U","t":20,"s":0.68},{"g":"H","k":"U","t":22,"s":0.64},{"g":"H","k":"U","t":24,"s":0.61},{"g":"H","k":"U","t":26,"s":0.59},{"g":"H","k":"U","t":28,"s":0.57},{"g":"H","k":"U","t":31,"s":0.55},{"g":"H","k":"U","t":42,"s":0.53},{"g":"H","k":"U","t":57,"s":0.504},{"g":"H","k":"U","t":61,"s":0.455},{"g":"H","k":"U","t":119,"s":0.455},
{"g":"H","k":"L","t":0,"s":1},{"g":"H","k":"L","t":4,"s":0.91},{"g":"H","k":"L","t":6,"s":0.85},{"g":"H","k":"L","t":8,"s":0.80},{"g":"H","k":"L","t":10,"s":0.74},{"g":"H","k":"L","t":12,"s":0.68},{"g":"H","k":"L","t":14,"s":0.63},{"g":"H","k":"L","t":16,"s":0.58},{"g":"H","k":"L","t":18,"s":0.54},{"g":"H","k":"L","t":20,"s":0.50},{"g":"H","k":"L","t":22,"s":0.47},{"g":"H","k":"L","t":24,"s":0.44},{"g":"H","k":"L","t":26,"s":0.40},{"g":"H","k":"L","t":28,"s":0.37},{"g":"H","k":"L","t":30.5,"s":0.35},{"g":"H","k":"L","t":44.8,"s":0.304},{"g":"H","k":"L","t":56.3,"s":0.21},{"g":"H","k":"L","t":60.6,"s":0.137},{"g":"H","k":"L","t":119,"s":0.137}],
 "cCOS":[
{"g":"L","t":23,"s":0.624},{"g":"L","t":30,"s":0.557},{"g":"L","t":32.5,"s":0.533},{"g":"L","t":33.5,"s":0.533},{"g":"L","t":36.5,"s":0.49},{"g":"L","t":40,"s":0.457},{"g":"L","t":41,"s":0.457},{"g":"L","t":43,"s":0.457},{"g":"L","t":45.5,"s":0.457},{"g":"L","t":47.7,"s":0.457},{"g":"L","t":50,"s":0.457},{"g":"L","t":59.1,"s":0.457},{"g":"L","t":65.6,"s":0.457},{"g":"L","t":67.7,"s":0.457},{"g":"L","t":106.4,"s":0.275},{"g":"L","t":124.3,"s":0.275},
{"g":"H","t":29.5,"s":0.464},{"g":"H","t":30.5,"s":0.464},{"g":"H","t":31.5,"s":0.464},{"g":"H","t":32.5,"s":0.464},{"g":"H","t":33.5,"s":0.464},{"g":"H","t":35,"s":0.464},{"g":"H","t":39.8,"s":0.464},{"g":"H","t":41,"s":0.464},{"g":"H","t":45,"s":0.444},{"g":"H","t":46.5,"s":0.43},{"g":"H","t":54.8,"s":0.397},{"g":"H","t":62.7,"s":0.25},{"g":"H","t":63.7,"s":0.25},{"g":"H","t":72.7,"s":0.25},{"g":"H","t":118.5,"s":0.25},{"g":"H","t":119.5,"s":0.25}],
 "kmCDFS":[
{"g":"L","k":"S","t":0,"s":1},{"g":"L","k":"S","t":2.5,"s":0.985},{"g":"L","k":"S","t":3,"s":0.97},{"g":"L","k":"S","t":4,"s":0.955},{"g":"L","k":"S","t":5,"s":0.93},{"g":"L","k":"S","t":6,"s":0.91},{"g":"L","k":"S","t":7,"s":0.89},{"g":"L","k":"S","t":8,"s":0.87},{"g":"L","k":"S","t":9,"s":0.85},{"g":"L","k":"S","t":10,"s":0.83},{"g":"L","k":"S","t":11,"s":0.81},{"g":"L","k":"S","t":12,"s":0.79},{"g":"L","k":"S","t":13,"s":0.757},{"g":"L","k":"S","t":14,"s":0.737},{"g":"L","k":"S","t":15,"s":0.717},{"g":"L","k":"S","t":16,"s":0.70},{"g":"L","k":"S","t":17,"s":0.69},{"g":"L","k":"S","t":18.5,"s":0.67},{"g":"L","k":"S","t":23,"s":0.653},{"g":"L","k":"S","t":46,"s":0.59},{"g":"L","k":"S","t":65,"s":0.506},{"g":"L","k":"S","t":126.5,"s":0.506},
{"g":"H","k":"S","t":0,"s":1},{"g":"H","k":"S","t":1,"s":0.995},{"g":"H","k":"S","t":2,"s":0.99},{"g":"H","k":"S","t":3,"s":0.98},{"g":"H","k":"S","t":5,"s":0.96},{"g":"H","k":"S","t":6,"s":0.937},{"g":"H","k":"S","t":7,"s":0.92},{"g":"H","k":"S","t":8,"s":0.90},{"g":"H","k":"S","t":9,"s":0.88},{"g":"H","k":"S","t":10,"s":0.86},{"g":"H","k":"S","t":12,"s":0.83},{"g":"H","k":"S","t":13,"s":0.80},{"g":"H","k":"S","t":14,"s":0.777},{"g":"H","k":"S","t":15,"s":0.75},{"g":"H","k":"S","t":16,"s":0.73},{"g":"H","k":"S","t":17,"s":0.704},{"g":"H","k":"S","t":19,"s":0.69},{"g":"H","k":"S","t":20,"s":0.666},{"g":"H","k":"S","t":21,"s":0.644},{"g":"H","k":"S","t":25,"s":0.623},{"g":"H","k":"S","t":26,"s":0.61},{"g":"H","k":"S","t":33,"s":0.59},{"g":"H","k":"S","t":34,"s":0.557},{"g":"H","k":"S","t":43,"s":0.517},{"g":"H","k":"S","t":44,"s":0.48},{"g":"H","k":"S","t":56,"s":0.42},{"g":"H","k":"S","t":121,"s":0.42},
{"g":"L","k":"U","t":0,"s":1},{"g":"L","k":"U","t":5,"s":0.99},{"g":"L","k":"U","t":7,"s":0.97},{"g":"L","k":"U","t":9,"s":0.94},{"g":"L","k":"U","t":11,"s":0.90},{"g":"L","k":"U","t":13,"s":0.85},{"g":"L","k":"U","t":15,"s":0.81},{"g":"L","k":"U","t":17,"s":0.77},{"g":"L","k":"U","t":19,"s":0.75},{"g":"L","k":"U","t":23,"s":0.74},{"g":"L","k":"U","t":125,"s":0.74},
{"g":"L","k":"L","t":0,"s":1},{"g":"L","k":"L","t":3,"s":0.94},{"g":"L","k":"L","t":5,"s":0.87},{"g":"L","k":"L","t":7,"s":0.83},{"g":"L","k":"L","t":9,"s":0.79},{"g":"L","k":"L","t":11,"s":0.75},{"g":"L","k":"L","t":13,"s":0.70},{"g":"L","k":"L","t":15,"s":0.66},{"g":"L","k":"L","t":17,"s":0.63},{"g":"L","k":"L","t":19,"s":0.60},{"g":"L","k":"L","t":23,"s":0.573},{"g":"L","k":"L","t":46,"s":0.474},{"g":"L","k":"L","t":65,"s":0.347},{"g":"L","k":"L","t":125,"s":0.347},
{"g":"H","k":"U","t":0,"s":1},{"g":"H","k":"U","t":5,"s":0.995},{"g":"H","k":"U","t":7,"s":0.98},{"g":"H","k":"U","t":9,"s":0.96},{"g":"H","k":"U","t":11,"s":0.93},{"g":"H","k":"U","t":13,"s":0.90},{"g":"H","k":"U","t":15,"s":0.85},{"g":"H","k":"U","t":17,"s":0.80},{"g":"H","k":"U","t":19,"s":0.76},{"g":"H","k":"U","t":21,"s":0.72},{"g":"H","k":"U","t":25,"s":0.697},{"g":"H","k":"U","t":27,"s":0.69},{"g":"H","k":"U","t":33,"s":0.68},{"g":"H","k":"U","t":43,"s":0.657},{"g":"H","k":"U","t":48,"s":0.64},{"g":"H","k":"U","t":56,"s":0.618},{"g":"H","k":"U","t":119,"s":0.618},
{"g":"H","k":"L","t":0,"s":1},{"g":"H","k":"L","t":4,"s":0.93},{"g":"H","k":"L","t":6,"s":0.88},{"g":"H","k":"L","t":8,"s":0.84},{"g":"H","k":"L","t":10,"s":0.79},{"g":"H","k":"L","t":12,"s":0.75},{"g":"H","k":"L","t":14,"s":0.70},{"g":"H","k":"L","t":16,"s":0.66},{"g":"H","k":"L","t":18,"s":0.62},{"g":"H","k":"L","t":20,"s":0.59},{"g":"H","k":"L","t":21,"s":0.57},{"g":"H","k":"L","t":25,"s":0.55},{"g":"H","k":"L","t":33,"s":0.459},{"g":"H","k":"L","t":43,"s":0.359},{"g":"H","k":"L","t":56,"s":0.283},{"g":"H","k":"L","t":119,"s":0.283}],
 "cCDFS":[
{"g":"L","t":2,"s":1},{"g":"L","t":21,"s":0.67},{"g":"L","t":22,"s":0.67},{"g":"L","t":25,"s":0.653},{"g":"L","t":27,"s":0.653},{"g":"L","t":29,"s":0.653},{"g":"L","t":30,"s":0.653},{"g":"L","t":31,"s":0.653},{"g":"L","t":32,"s":0.653},{"g":"L","t":33,"s":0.653},{"g":"L","t":34,"s":0.653},{"g":"L","t":35,"s":0.653},{"g":"L","t":36,"s":0.653},{"g":"L","t":37,"s":0.653},{"g":"L","t":38,"s":0.653},{"g":"L","t":39,"s":0.653},{"g":"L","t":40,"s":0.653},{"g":"L","t":42,"s":0.653},{"g":"L","t":47.1,"s":0.59},{"g":"L","t":59.2,"s":0.59},{"g":"L","t":65.8,"s":0.506},{"g":"L","t":68,"s":0.506},{"g":"L","t":74,"s":0.506},{"g":"L","t":75.7,"s":0.506},{"g":"L","t":106.8,"s":0.506},{"g":"L","t":124.7,"s":0.506},
{"g":"H","t":0.5,"s":1},{"g":"H","t":1.5,"s":1},{"g":"H","t":22,"s":0.644},{"g":"H","t":23,"s":0.644},{"g":"H","t":24,"s":0.644},{"g":"H","t":27,"s":0.61},{"g":"H","t":28,"s":0.61},{"g":"H","t":29,"s":0.61},{"g":"H","t":30,"s":0.61},{"g":"H","t":31,"s":0.61},{"g":"H","t":32,"s":0.61},{"g":"H","t":35,"s":0.557},{"g":"H","t":36,"s":0.557},{"g":"H","t":37,"s":0.557},{"g":"H","t":38,"s":0.557},{"g":"H","t":39,"s":0.557},{"g":"H","t":40,"s":0.557},{"g":"H","t":45,"s":0.48},{"g":"H","t":46,"s":0.48},{"g":"H","t":55,"s":0.48},{"g":"H","t":58.9,"s":0.42},{"g":"H","t":63.2,"s":0.42},{"g":"H","t":64.8,"s":0.42},{"g":"H","t":73,"s":0.42},{"g":"H","t":118.5,"s":0.42},{"g":"H","t":119.5,"s":0.42}]
},
"vconcat":[
{"hconcat":[
 {"width":176,"height":306,"view":{"stroke":"#4d4d4d","strokeWidth":1},
  "title":{"text":"A","anchor":"start","frame":"bounds","fontSize":25,"baseline":"alphabetic","offset":-40.5},
  "layer":[
   {"data":{"name":"boxA"},"mark":{"type":"rule","strokeDash":[2,2],"color":"#333","strokeWidth":0.8},
    "encoding":{"x":{"field":"c","type":"quantitative","scale":{"domain":[-0.1,3.1],"nice":false,"zero":false},"axis":{"values":[1.5],"labelExpr":"'STAD'","title":"(num (T) = 408; num (N) = 211)","labelFontWeight":"bold","labelFontSize":12.5,"titleFontSize":13,"tickSize":5,"labelPadding":5,"titlePadding":2}},
     "y":{"field":"q3","type":"quantitative","scale":{"domain":[-0.38,8.62],"nice":false,"zero":false},"axis":{"values":[0,2,4,6,8],"title":"Expression-log₂ (TPM + 1)","titleFontSize":12.5,"labelFontSize":12.5,"tickSize":9,"labelPadding":5,"titlePadding":13}},
     "y2":{"field":"hi"}}},
   {"data":{"name":"boxA"},"mark":{"type":"rule","strokeDash":[2,2],"color":"#333","strokeWidth":0.8},
    "encoding":{"x":{"field":"c","type":"quantitative","scale":{"domain":[-0.1,3.1],"nice":false,"zero":false}},"y":{"field":"lo","type":"quantitative","scale":{"domain":[-0.38,8.62],"nice":false,"zero":false}},"y2":{"field":"q1"}}},
   {"data":{"name":"boxA"},"mark":{"type":"bar","width":46,"stroke":"#333","strokeWidth":0.8},
    "encoding":{"x":{"field":"c","type":"quantitative","scale":{"domain":[-0.1,3.1],"nice":false,"zero":false}},"y":{"field":"q1","type":"quantitative","scale":{"domain":[-0.38,8.62],"nice":false,"zero":false}},"y2":{"field":"q3"},"color":{"field":"g","type":"nominal","scale":{"domain":["T","N"],"range":["#f76b6b","#7f7f7f"]},"legend":null}}},
   {"data":{"name":"ptsA"},"mark":{"type":"circle","size":6,"color":"black","opacity":1},
    "encoding":{"x":{"field":"x","type":"quantitative","scale":{"domain":[-0.1,3.1],"nice":false,"zero":false}},"y":{"field":"v","type":"quantitative","scale":{"domain":[-0.38,8.62],"nice":false,"zero":false}}}},
   {"data":{"name":"boxA"},"mark":{"type":"tick","orient":"horizontal","size":46,"thickness":3,"color":"black","opacity":1},
    "encoding":{"x":{"field":"c","type":"quantitative","scale":{"domain":[-0.1,3.1],"nice":false,"zero":false}},"y":{"field":"med","type":"quantitative","scale":{"domain":[-0.38,8.62],"nice":false,"zero":false}}}},
   {"data":{"name":"boxA"},"mark":{"type":"tick","orient":"horizontal","size":22,"thickness":1,"color":"#222","opacity":1},
    "encoding":{"x":{"field":"c","type":"quantitative","scale":{"domain":[-0.1,3.1],"nice":false,"zero":false}},"y":{"field":"hi","type":"quantitative","scale":{"domain":[-0.38,8.62],"nice":false,"zero":false}}}},
   {"data":{"name":"boxA"},"mark":{"type":"tick","orient":"horizontal","size":22,"thickness":1,"color":"#222","opacity":1},
    "encoding":{"x":{"field":"c","type":"quantitative","scale":{"domain":[-0.1,3.1],"nice":false,"zero":false}},"y":{"field":"lo","type":"quantitative","scale":{"domain":[-0.38,8.62],"nice":false,"zero":false}}}},
   {"data":{"name":"boxA"},"mark":{"type":"tick","orient":"horizontal","size":46,"thickness":4.5,"color":"black","opacity":1},
    "encoding":{"x":{"field":"c","type":"quantitative","scale":{"domain":[-0.1,3.1],"nice":false,"zero":false}},"y":{"field":"z","type":"quantitative","scale":{"domain":[-0.38,8.62],"nice":false,"zero":false}}}},
   {"data":{"name":"brA"},"mark":{"type":"rule","color":"#555","strokeWidth":1},
    "encoding":{"x":{"field":"x","type":"quantitative","scale":{"domain":[-0.1,3.1],"nice":false,"zero":false}},"x2":{"field":"x2"},"y":{"field":"y","type":"quantitative","scale":{"domain":[-0.38,8.62],"nice":false,"zero":false}},"y2":{"field":"y2"}}},
   {"data":{"name":"starA"},"mark":{"type":"point","shape":"M0,-1L0.2245,-0.309L0.951,-0.309L0.363,0.118L0.588,0.809L0,0.382L-0.588,0.809L-0.363,0.118L-0.951,-0.309L-0.2245,-0.309Z","filled":true,"color":"#e8332e","size":60,"opacity":1},
    "encoding":{"x":{"field":"x","type":"quantitative","scale":{"domain":[-0.1,3.1],"nice":false,"zero":false}},"y":{"field":"y","type":"quantitative","scale":{"domain":[-0.38,8.62],"nice":false,"zero":false}}}}
  ]},
 {"width":302,"height":268,"title":{"text":"Overall survival"},
  "encoding":{
   "x":{"field":"t","type":"quantitative","scale":{"domain":[0,131],"nice":false,"zero":false},"axis":{"values":[0,20,40,60,80,100,120],"title":"Months","labelPadding":6,"titlePadding":11}},
   "y":{"field":"s","type":"quantitative","scale":{"domain":[-0.037,1.037],"nice":false,"zero":false},"axis":{"values":[0,0.2,0.4,0.6,0.8,1],"format":".1f","title":null}},
   "color":{"field":"g","type":"nominal","scale":{"domain":["L","H"],"range":["#1515ee","#ee1515"]},
    "legend":{"orient":"none","legendX":4,"legendY":329,"symbolType":"M-1.6,0H1.6","labelExpr":"datum.value == 'L' ? 'Low TP53 Group\u00a0\u00a0\u00a0\u00a0Logrank p = 0.46' : 'High TP53 Group\u00a0\u00a0\u00a0HR (high) = 0.89'","title":["p(HR) = 0.46","n (high) = 192","n (low) = 192"]}}},
  "layer":[
   {"data":{"name":"kmAOS"},"transform":[{"filter":"datum.k != 'S'"}],"mark":{"type":"line","interpolate":"step-after","strokeWidth":1.2,"strokeDash":[1.2,2],"opacity":0.75},"encoding":{"detail":{"field":"k"}}},
   {"data":{"name":"kmAOS"},"transform":[{"filter":"datum.k == 'S'"}],"mark":{"type":"line","interpolate":"step-after","strokeWidth":2}},
   {"data":{"name":"cAOS"},"mark":{"type":"tick","orient":"vertical","size":9,"thickness":1.4,"opacity":1}}
  ]},
 {"width":302,"height":268,"title":{"text":"Disease free survival"},
  "encoding":{
   "x":{"field":"t","type":"quantitative","scale":{"domain":[0,131],"nice":false,"zero":false},"axis":{"values":[0,20,40,60,80,100,120],"title":"Months","titleFontSize":16.5,"labelPadding":6,"titlePadding":11}},
   "y":{"field":"s","type":"quantitative","scale":{"domain":[-0.037,1.037],"nice":false,"zero":false},"axis":{"values":[0,0.2,0.4,0.6,0.8,1],"format":".1f","title":"Percent survival","titlePadding":6}},
   "color":{"field":"g","type":"nominal","scale":{"domain":["L","H"],"range":["#1515ee","#ee1515"]},
    "legend":{"orient":"none","legendX":8,"legendY":329,"symbolType":"M-1.3,0H1.3","labelExpr":"datum.value == 'L' ? 'Low TP53 Group\u00a0\u00a0\u00a0Logrank p = 0.54' : 'High TP53 Group\u00a0\u00a0HR (high) = 0.69'","title":["p(HR) = 0.055","n (high) = 192","n (low) = 192"]}}},
  "layer":[
   {"data":{"name":"kmADFS"},"transform":[{"filter":"datum.k != 'S'"}],"mark":{"type":"line","interpolate":"step-after","strokeWidth":1.2,"strokeDash":[1.2,2],"opacity":0.75},"encoding":{"detail":{"field":"k"}}},
   {"data":{"name":"kmADFS"},"transform":[{"filter":"datum.k == 'S'"}],"mark":{"type":"line","interpolate":"step-after","strokeWidth":2}},
   {"data":{"name":"cADFS"},"mark":{"type":"tick","orient":"vertical","size":9,"thickness":1.4,"opacity":1}}
  ]}
 ],
 "spacing":71,"bounds":"flush","center":true,
 "resolve":{"scale":{"x":"independent","y":"independent","color":"independent"},"axis":{"x":"independent","y":"independent"},"legend":{"color":"independent"}}},
{"hconcat":[
 {"width":176,"height":304,"view":{"stroke":"#4d4d4d","strokeWidth":1},
  "title":{"text":"B","anchor":"start","frame":"bounds","fontSize":25,"baseline":"alphabetic","offset":-29.5},
  "layer":[
   {"data":{"name":"boxB"},"mark":{"type":"rule","strokeDash":[2,2],"color":"#333","strokeWidth":0.8},
    "encoding":{"x":{"field":"c","type":"quantitative","scale":{"domain":[-0.1,3.1],"nice":false,"zero":false},"axis":{"values":[1.5],"labelExpr":"'STAD'","title":"(num (T) = 408; num (N) = 211)","labelFontWeight":"bold","labelFontSize":12.5,"titleFontSize":13,"tickSize":5,"labelPadding":5,"titlePadding":2}},
     "y":{"field":"q3","type":"quantitative","scale":{"domain":[-0.34,8.31],"nice":false,"zero":false},"axis":{"values":[0,2,4,6,8],"title":"Expression-log₂ (TPM + 1)","titleFontSize":12.5,"labelFontSize":12.5,"tickSize":9,"labelPadding":5,"titlePadding":13}},
     "y2":{"field":"hi"}}},
   {"data":{"name":"boxB"},"mark":{"type":"rule","strokeDash":[2,2],"color":"#333","strokeWidth":0.8},
    "encoding":{"x":{"field":"c","type":"quantitative","scale":{"domain":[-0.1,3.1],"nice":false,"zero":false}},"y":{"field":"lo","type":"quantitative","scale":{"domain":[-0.34,8.31],"nice":false,"zero":false}},"y2":{"field":"q1"}}},
   {"data":{"name":"boxB"},"mark":{"type":"bar","width":46,"stroke":"#333","strokeWidth":0.8},
    "encoding":{"x":{"field":"c","type":"quantitative","scale":{"domain":[-0.1,3.1],"nice":false,"zero":false}},"y":{"field":"q1","type":"quantitative","scale":{"domain":[-0.34,8.31],"nice":false,"zero":false}},"y2":{"field":"q3"},"color":{"field":"g","type":"nominal","scale":{"domain":["T","N"],"range":["#f76b6b","#7f7f7f"]},"legend":null}}},
   {"data":{"name":"ptsB"},"mark":{"type":"circle","size":6,"color":"black","opacity":1},
    "encoding":{"x":{"field":"x","type":"quantitative","scale":{"domain":[-0.1,3.1],"nice":false,"zero":false}},"y":{"field":"v","type":"quantitative","scale":{"domain":[-0.34,8.31],"nice":false,"zero":false}}}},
   {"data":{"name":"boxB"},"mark":{"type":"tick","orient":"horizontal","size":46,"thickness":3,"color":"black","opacity":1},
    "encoding":{"x":{"field":"c","type":"quantitative","scale":{"domain":[-0.1,3.1],"nice":false,"zero":false}},"y":{"field":"med","type":"quantitative","scale":{"domain":[-0.34,8.31],"nice":false,"zero":false}}}},
   {"data":{"name":"boxB"},"mark":{"type":"tick","orient":"horizontal","size":22,"thickness":1,"color":"#222","opacity":1},
    "encoding":{"x":{"field":"c","type":"quantitative","scale":{"domain":[-0.1,3.1],"nice":false,"zero":false}},"y":{"field":"hi","type":"quantitative","scale":{"domain":[-0.34,8.31],"nice":false,"zero":false}}}},
   {"data":{"name":"boxB"},"mark":{"type":"tick","orient":"horizontal","size":22,"thickness":1,"color":"#222","opacity":1},
    "encoding":{"x":{"field":"c","type":"quantitative","scale":{"domain":[-0.1,3.1],"nice":false,"zero":false}},"y":{"field":"lo","type":"quantitative","scale":{"domain":[-0.34,8.31],"nice":false,"zero":false}}}},
   {"data":{"name":"boxB"},"mark":{"type":"tick","orient":"horizontal","size":46,"thickness":4.5,"color":"black","opacity":1},
    "encoding":{"x":{"field":"c","type":"quantitative","scale":{"domain":[-0.1,3.1],"nice":false,"zero":false}},"y":{"field":"z","type":"quantitative","scale":{"domain":[-0.34,8.31],"nice":false,"zero":false}}}}
  ]},
 {"width":302,"height":268,"title":{"text":"Overall survival"},
  "encoding":{
   "x":{"field":"t","type":"quantitative","scale":{"domain":[0,131],"nice":false,"zero":false},"axis":{"values":[0,20,40,60,80,100,120],"title":"Months","labelPadding":6,"titlePadding":11}},
   "y":{"field":"s","type":"quantitative","scale":{"domain":[-0.037,1.037],"nice":false,"zero":false},"axis":{"values":[0,0.2,0.4,0.6,0.8,1],"format":".1f","title":"Percent survival","titlePadding":6}},
   "color":{"field":"g","type":"nominal","scale":{"domain":["L","H"],"range":["#1515ee","#ee1515"]},
    "legend":{"orient":"none","legendX":12,"legendY":326,"symbolType":"M-1.36,0H1.36","labelExpr":"datum.value == 'L' ? 'Low AKT1 Group\u00a0\u00a0\u00a0Logrank p = 0.78' : 'High AKT1 Group\u00a0\u00a0\u00a0HR (high) = 1'","title":["p(HR) = 0.79","n (high) = 192","n (low) = 192"]}}},
  "layer":[
   {"data":{"name":"kmBOS"},"transform":[{"filter":"datum.k != 'S'"}],"mark":{"type":"line","interpolate":"step-after","strokeWidth":1.2,"strokeDash":[1.2,2],"opacity":0.75},"encoding":{"detail":{"field":"k"}}},
   {"data":{"name":"kmBOS"},"transform":[{"filter":"datum.k == 'S'"}],"mark":{"type":"line","interpolate":"step-after","strokeWidth":2}},
   {"data":{"name":"cBOS"},"mark":{"type":"tick","orient":"vertical","size":9,"thickness":1.4,"opacity":1}}
  ]},
 {"width":302,"height":268,"title":{"text":"Disease free survival"},
  "encoding":{
   "x":{"field":"t","type":"quantitative","scale":{"domain":[0,131],"nice":false,"zero":false},"axis":{"values":[0,20,40,60,80,100,120],"title":"Months","labelPadding":6,"titlePadding":11}},
   "y":{"field":"s","type":"quantitative","scale":{"domain":[-0.037,1.037],"nice":false,"zero":false},"axis":{"values":[0,0.2,0.4,0.6,0.8,1],"format":".1f","title":"Percent survival","titlePadding":6}},
   "color":{"field":"g","type":"nominal","scale":{"domain":["L","H"],"range":["#1515ee","#ee1515"]},
    "legend":{"orient":"none","legendX":9,"legendY":326,"symbolType":"M-1.3,0H1.3","labelExpr":"datum.value == 'L' ? 'Low AKT1 Group\u00a0\u00a0Logrank p = 0.84' : 'High AKT1 Group\u00a0\u00a0HR (high) = 0.96'","title":["p(HR) = 0.84","n (high) = 192","n (low) = 192"]}}},
  "layer":[
   {"data":{"name":"kmBDFS"},"transform":[{"filter":"datum.k != 'S'"}],"mark":{"type":"line","interpolate":"step-after","strokeWidth":1.2,"strokeDash":[1.2,2],"opacity":0.75},"encoding":{"detail":{"field":"k"}}},
   {"data":{"name":"kmBDFS"},"transform":[{"filter":"datum.k == 'S'"}],"mark":{"type":"line","interpolate":"step-after","strokeWidth":2}},
   {"data":{"name":"cBDFS"},"mark":{"type":"tick","orient":"vertical","size":9,"thickness":1.4,"opacity":1}}
  ]}
 ],
 "spacing":71,"bounds":"flush","center":true,
 "resolve":{"scale":{"x":"independent","y":"independent","color":"independent"},"axis":{"x":"independent","y":"independent"},"legend":{"color":"independent"}}},
{"hconcat":[
 {"width":173,"height":292,"view":{"stroke":"#4d4d4d","strokeWidth":1},
  "title":{"text":"C","anchor":"start","frame":"bounds","fontSize":25,"baseline":"alphabetic","offset":-15.5},
  "layer":[
   {"data":{"name":"boxC"},"mark":{"type":"rule","strokeDash":[2,2],"color":"#333","strokeWidth":0.8},
    "encoding":{"x":{"field":"c","type":"quantitative","scale":{"domain":[-0.1,3.1],"nice":false,"zero":false},"axis":{"values":[1.5],"labelExpr":"'STAD'","title":"(num (T) = 408; num (N) = 211)","labelFontWeight":"bold","labelFontSize":12.5,"titleFontSize":13,"tickSize":5,"labelPadding":5,"titlePadding":2}},
     "y":{"field":"q3","type":"quantitative","scale":{"domain":[-0.37,9.37],"nice":false,"zero":false},"axis":{"values":[0,2,4,6,8],"title":"Expression-log₂ (TPM + 1)","titleFontSize":12.5,"labelFontSize":12.5,"tickSize":9,"labelPadding":5,"titlePadding":13}},
     "y2":{"field":"hi"}}},
   {"data":{"name":"boxC"},"mark":{"type":"rule","strokeDash":[2,2],"color":"#333","strokeWidth":0.8},
    "encoding":{"x":{"field":"c","type":"quantitative","scale":{"domain":[-0.1,3.1],"nice":false,"zero":false}},"y":{"field":"lo","type":"quantitative","scale":{"domain":[-0.37,9.37],"nice":false,"zero":false}},"y2":{"field":"q1"}}},
   {"data":{"name":"boxC"},"mark":{"type":"bar","width":45,"stroke":"#333","strokeWidth":0.8},
    "encoding":{"x":{"field":"c","type":"quantitative","scale":{"domain":[-0.1,3.1],"nice":false,"zero":false}},"y":{"field":"q1","type":"quantitative","scale":{"domain":[-0.37,9.37],"nice":false,"zero":false}},"y2":{"field":"q3"},"color":{"field":"g","type":"nominal","scale":{"domain":["T","N"],"range":["#f76b6b","#7f7f7f"]},"legend":null}}},
   {"data":{"name":"ptsC"},"mark":{"type":"circle","size":6,"color":"black","opacity":1},
    "encoding":{"x":{"field":"x","type":"quantitative","scale":{"domain":[-0.1,3.1],"nice":false,"zero":false}},"y":{"field":"v","type":"quantitative","scale":{"domain":[-0.37,9.37],"nice":false,"zero":false}}}},
   {"data":{"name":"boxC"},"mark":{"type":"tick","orient":"horizontal","size":45,"thickness":3,"color":"black","opacity":1},
    "encoding":{"x":{"field":"c","type":"quantitative","scale":{"domain":[-0.1,3.1],"nice":false,"zero":false}},"y":{"field":"med","type":"quantitative","scale":{"domain":[-0.37,9.37],"nice":false,"zero":false}}}},
   {"data":{"name":"boxC"},"mark":{"type":"tick","orient":"horizontal","size":22,"thickness":1,"color":"#222","opacity":1},
    "encoding":{"x":{"field":"c","type":"quantitative","scale":{"domain":[-0.1,3.1],"nice":false,"zero":false}},"y":{"field":"hi","type":"quantitative","scale":{"domain":[-0.37,9.37],"nice":false,"zero":false}}}},
   {"data":{"name":"boxC"},"mark":{"type":"tick","orient":"horizontal","size":22,"thickness":1,"color":"#222","opacity":1},
    "encoding":{"x":{"field":"c","type":"quantitative","scale":{"domain":[-0.1,3.1],"nice":false,"zero":false}},"y":{"field":"lo","type":"quantitative","scale":{"domain":[-0.37,9.37],"nice":false,"zero":false}}}},
   {"data":{"name":"boxC"},"mark":{"type":"tick","orient":"horizontal","size":45,"thickness":4.5,"color":"black","opacity":1},
    "encoding":{"x":{"field":"c","type":"quantitative","scale":{"domain":[-0.1,3.1],"nice":false,"zero":false}},"y":{"field":"z","type":"quantitative","scale":{"domain":[-0.37,9.37],"nice":false,"zero":false}}}}
  ]},
 {"width":302,"height":268,"title":{"text":"Overall survival"},
  "encoding":{
   "x":{"field":"t","type":"quantitative","scale":{"domain":[0,131],"nice":false,"zero":false},"axis":{"values":[0,20,40,60,80,100,120],"title":"Months","labelPadding":6,"titlePadding":11}},
   "y":{"field":"s","type":"quantitative","scale":{"domain":[-0.037,1.037],"nice":false,"zero":false},"axis":{"values":[0,0.2,0.4,0.6,0.8,1],"format":".1f","title":"Percent survival","titlePadding":6}},
   "color":{"field":"g","type":"nominal","scale":{"domain":["L","H"],"range":["#1515ee","#ee1515"]},
    "legend":{"orient":"none","legendX":6,"legendY":322,"symbolType":"M-1.43,0H1.43","symbolSize":225,"titleBaseline":"top","titleLineHeight":15.5,"labelExpr":"datum.value == 'L' ? 'Low STAT3 Group\u00a0\u00a0Logrank p = 0.37' : 'High STAT3 Group\u00a0HR (high) = 1.2'","title":["p(HR) = 0.37","n (high) = 192","n (low) = 192"]}}},
  "layer":[
   {"data":{"name":"kmCOS"},"transform":[{"filter":"datum.k != 'S'"}],"mark":{"type":"line","interpolate":"step-after","strokeWidth":1.2,"strokeDash":[1.2,2],"opacity":0.75},"encoding":{"detail":{"field":"k"}}},
   {"data":{"name":"kmCOS"},"transform":[{"filter":"datum.k == 'S'"}],"mark":{"type":"line","interpolate":"step-after","strokeWidth":2}},
   {"data":{"name":"cCOS"},"mark":{"type":"tick","orient":"vertical","size":9,"thickness":1.4,"opacity":1}}
  ]},
 {"width":302,"height":268,"title":{"text":"Disease free survival"},
  "encoding":{
   "x":{"field":"t","type":"quantitative","scale":{"domain":[0,131],"nice":false,"zero":false},"axis":{"values":[0,20,40,60,80,100,120],"title":"Months","labelPadding":6,"titlePadding":11}},
   "y":{"field":"s","type":"quantitative","scale":{"domain":[-0.037,1.037],"nice":false,"zero":false},"axis":{"values":[0,0.2,0.4,0.6,0.8,1],"format":".1f","title":"Percent survival","titlePadding":6}},
   "color":{"field":"g","type":"nominal","scale":{"domain":["L","H"],"range":["#1515ee","#ee1515"]},
    "legend":{"orient":"none","legendX":12.5,"legendY":330,"symbolType":"M-2.22,0H2.22","symbolSize":81,"labelFontSize":1,"rowPadding":0,"labelExpr":"''","title":null}}},
  "layer":[
   {"data":{"name":"kmCDFS"},"transform":[{"filter":"datum.k != 'S'"}],"mark":{"type":"line","interpolate":"step-after","strokeWidth":1.2,"strokeDash":[1.2,2],"opacity":0.75},"encoding":{"detail":{"field":"k"}}},
   {"data":{"name":"kmCDFS"},"transform":[{"filter":"datum.k == 'S'"}],"mark":{"type":"line","interpolate":"step-after","strokeWidth":2}},
   {"data":{"name":"cCDFS"},"mark":{"type":"tick","orient":"vertical","size":9,"thickness":1.4,"opacity":1}}
  ]}
 ],
 "spacing":77,"bounds":"flush","center":true,
 "resolve":{"scale":{"x":"independent","y":"independent","color":"independent"},"axis":{"x":"independent","y":"independent"},"legend":{"color":"independent"}}}
]
}
